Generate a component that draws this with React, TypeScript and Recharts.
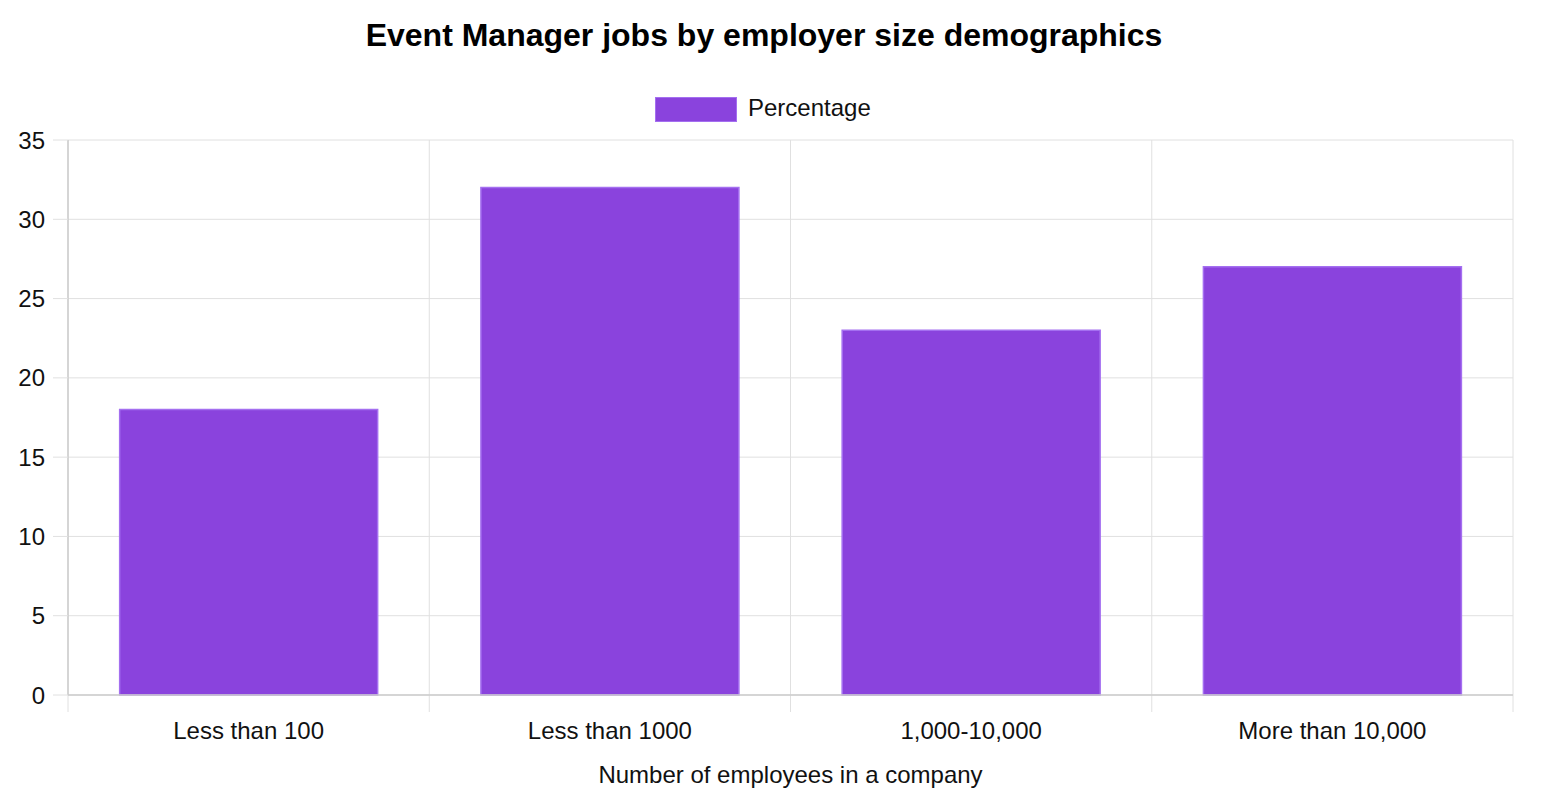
import { Bar, BarChart, CartesianGrid, Label, XAxis, YAxis } from "recharts";

const categories = ["Less than 100", "Less than 1000", "1,000-10,000", "More than 10,000"];
const percentages = [18, 32, 23, 27];
const yTicks = [0, 5, 10, 15, 20, 25, 30, 35];

const data = categories.map((name, i) => ({ name, value: percentages[i] }));

const FONT = "'Liberation Sans', Arial, Helvetica, sans-serif";
const GRID = "#e0e0e0";
const AXIS = "#cccccc";
const BAR_FILL = "#8a43dd";
const BAR_EDGE = "#a46ff0";

// vertical lines at category boundaries
const boundaries = ({ offset }: any) =>
  categories.map((_, i) => offset.left + (offset.width * i) / categories.length).concat(offset.left + offset.width);

export default function App() {
  return (
    <div style={{ position: "absolute", left: 0, top: 0, width: 1550, height: 798, background: "#fff", fontFamily: FONT }}>
      <div style={{ position: "absolute", left: 0, width: 1528, top: 17, textAlign: "center", fontSize: 32, fontWeight: 700, color: "#000" }}>
        Event Manager jobs by employer size demographics
      </div>
      <div style={{ position: "absolute", left: 655, top: 95, display: "flex", alignItems: "center" }}>
        <div style={{ width: 80, height: 23, background: BAR_FILL, border: `1.5px solid ${BAR_EDGE}` }} />
        <span style={{ marginLeft: 11, fontSize: 24, color: "#111", position: "relative", top: -1 }}>Percentage</span>
      </div>
      <BarChart
        width={1550}
        height={798}
        data={data}
        margin={{ top: 140, right: 37, left: 0, bottom: 0 }}
        barCategoryGap="14.3%"
        style={{ fontFamily: FONT }}
      >
        <CartesianGrid stroke={GRID} strokeWidth={1} verticalCoordinatesGenerator={boundaries} />
        <CartesianGrid stroke={GRID} strokeWidth={1} horizontal={false} y={695} height={17} verticalCoordinatesGenerator={boundaries} />
        <XAxis
          dataKey="name"
          height={103}
          tickLine={false}
          tickSize={17}
          tickMargin={10}
          axisLine={{ stroke: AXIS, strokeWidth: 1.5 }}
          tick={{ fontSize: 24, fill: "#111" }}
          interval={0}
        >
          <Label value="Number of employees in a company" position="insideBottom" offset={15} style={{ fontSize: 24, fill: "#111" }} />
        </XAxis>
        <YAxis
          width={68}
          domain={[0, 35]}
          ticks={yTicks}
          interval={0}
          tickSize={15}
          tickMargin={8}
          tickLine={{ stroke: GRID }}
          axisLine={{ stroke: AXIS, strokeWidth: 1.5 }}
          tick={{ fontSize: 24, fill: "#111" }}
        />
        <Bar dataKey="value" fill={BAR_FILL} stroke={BAR_EDGE} strokeWidth={1.5} isAnimationActive={false} />
      </BarChart>
    </div>
  );
}
